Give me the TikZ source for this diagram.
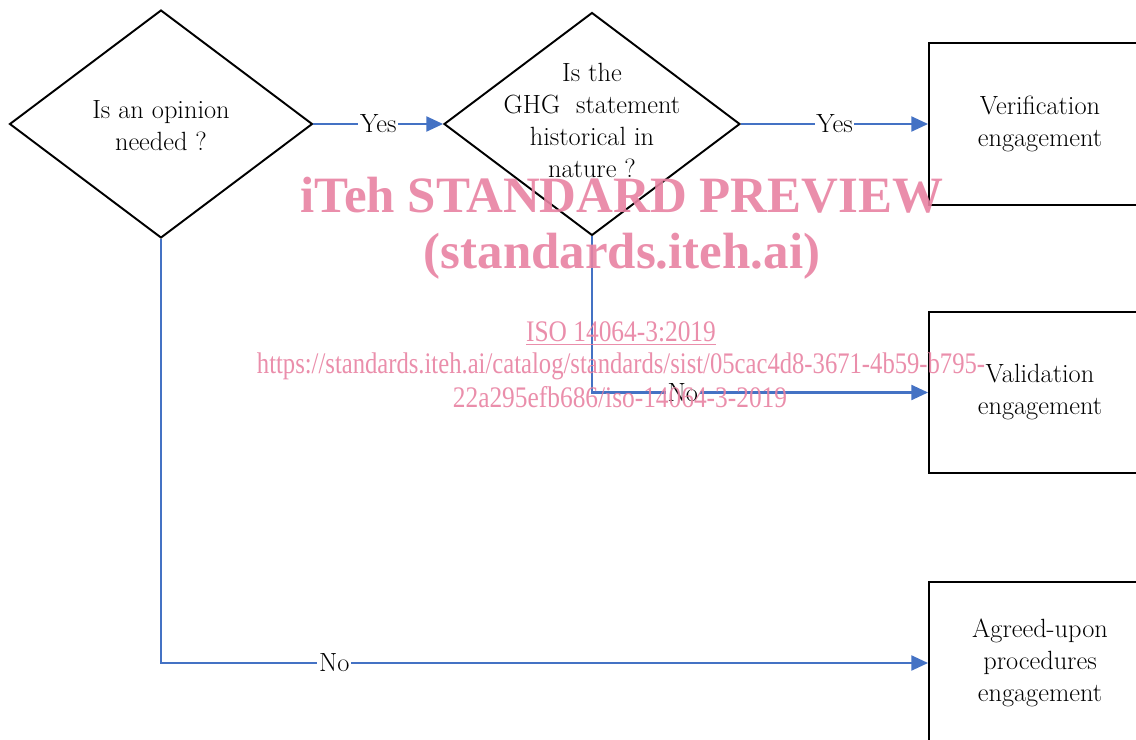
\documentclass[tikz,border=0pt]{standalone}
\usepackage{fontspec}
\usetikzlibrary{shapes.geometric,arrows.meta}
\newfontfamily\wmfont{Liberation Serif}
\definecolor{flowblue}{RGB}{68,114,196}
\definecolor{wmpink}{RGB}{232,130,162}

\begin{document}
\begin{tikzpicture}[x=0.02cm,y=-0.02cm,
    decision/.style={diamond,draw,line width=1.1pt,inner sep=0pt},
    outcome/.style={rectangle,draw,line width=1.1pt,minimum width=4.44cm,minimum height=3.24cm,
      align=center,font=\fontsize{15}{18.2}\selectfont},
    txt/.style={align=center,font=\fontsize{15}{18.2}\selectfont},
    flow/.style={draw=flowblue,line width=1.3pt,-{Triangle[length=9.5pt,width=8.5pt]}},
    lbl/.style={fill=white,inner sep=1pt,font=\fontsize{15}{17}\selectfont},
    wm/.style={text=wmpink,text opacity=0.9,inner sep=0pt,align=center}]
  \useasboundingbox (0,0) rectangle (1136,740);
  \clip (0,0) rectangle (1136,740);

  % questions
  \node[decision,minimum width=6.06cm,minimum height=4.56cm] (q1) at (161,124) {};
  \node[txt] (q1txt) at (161,126) {Is an opinion\\needed ?};
  \node[decision,minimum width=5.92cm,minimum height=4.46cm] (q2) at (592,124) {};
  \node[txt] (q2txt) at (592,120) {Is the\\GHG\ \ statement\\historical in\\nature ?};

  % outcomes
  \node[outcome] (verif) at (1040,124) {Verification\\engagement};
  \node[outcome,minimum height=3.22cm] (valid) at (1040,392.5) {Validation\\engagement};
  \node[outcome] (agreed) at (1040,663) {Agreed-upon\\procedures\\engagement};

  % connectors
  \draw[flow] (q1.east) -- node[lbl] (y1) {Yes} (q2.west);
  \draw[flow] (q2.east) -- node[lbl] (y2) {Yes} (verif.west);
  \draw[flow] (q2.south) |- node[lbl,pos=0.635] (n2) {No} (valid.west);
  \draw[flow] (q1.south) |- node[lbl,pos=0.613] (n1) {No} (agreed.west);

  % watermark
  \node[wm,font=\wmfont\bfseries\fontsize{29}{34}\selectfont] (wm1) at (622,195) {iTeh STANDARD PREVIEW};
  \node[wm,font=\wmfont\bfseries\fontsize{29}{34}\selectfont] (wm2) at (622,256) {(standards.iteh.ai)};
  \node[wm,font=\wmfont\fontsize{17}{20}\selectfont] (wm3) at (621,334) {\scalebox{0.85}[1]{\underline{ISO 14064-3:2019}}};
  \node[wm,font=\wmfont\fontsize{17}{20}\selectfont] (wm4) at (621,366) {\scalebox{0.825}[1]{https://standards.iteh.ai/catalog/standards/sist/05cac4d8-3671-4b59-b795-}};
  \node[wm,font=\wmfont\fontsize{17}{20}\selectfont] (wm5) at (620,397) {\scalebox{0.85}[1]{22a295efb686/iso-14064-3-2019}};
\end{tikzpicture}
\end{document}
